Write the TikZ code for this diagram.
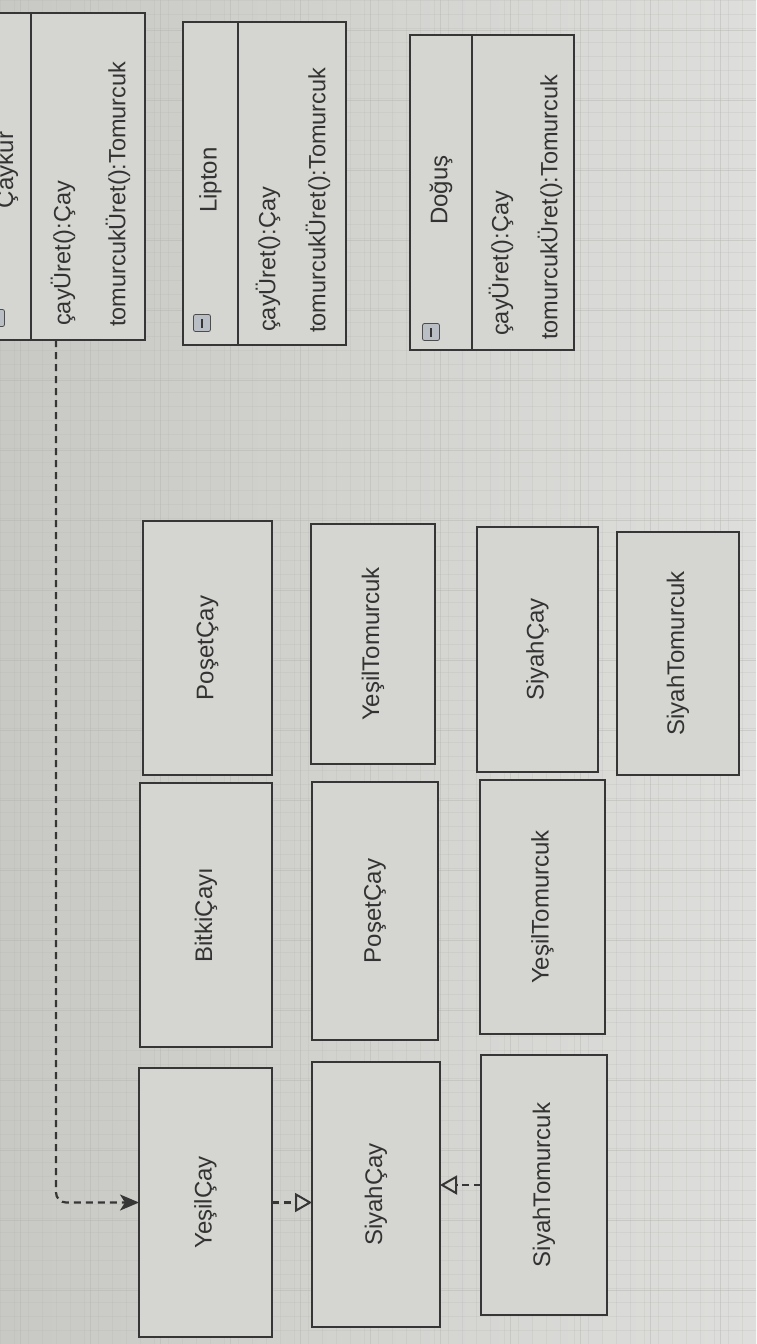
\documentclass[tikz,border=0pt]{standalone}
\usepackage{fontspec}
\setmainfont{Liberation Sans}
\usetikzlibrary{arrows.meta}
\definecolor{bgL}{HTML}{C8C8C4}
\definecolor{bgR}{HTML}{DEDEDC}
\definecolor{boxfill}{HTML}{D5D5D1}
\definecolor{edge}{HTML}{363636}
\definecolor{ink}{HTML}{333333}
\definecolor{gridc}{HTML}{B4B4B0}
\definecolor{iconfill}{HTML}{B9BFC5}
\begin{document}
\begin{tikzpicture}[x=1pt,y=-1pt,
  cls/.style={draw=edge, line width=2.6pt, fill=boxfill, inner sep=0pt, outer sep=0pt},
  lbl/.style={rotate=90, text=ink, font=\fontsize{24}{28}\selectfont, inner sep=0pt},
  meth/.style={rotate=90, anchor=west, text=ink, font=\fontsize{23.5}{28}\selectfont, inner sep=0pt},
  realize/.style={draw=edge, line width=2.2pt, dash pattern=on 7pt off 5pt},
  minorgrid/.style={draw=gridc, line width=0.35pt, opacity=0.22},
  majorgrid/.style={draw=gridc, line width=0.8pt, opacity=0.45},
  minusicon/.style={draw=gray!60!black, fill=iconfill, rounded corners=2pt, minimum size=17pt, inner sep=0pt, line width=0.8pt,
    path picture={\draw[line width=2pt, edge] ([yshift=-4.5pt]path picture bounding box.center) -- ([yshift=4.5pt]path picture bounding box.center);}}
]
\useasboundingbox (0,0) rectangle (756,1344);
\clip (0,0) rectangle (756,1344);
% background and grid
\shade[left color=bgL, right color=bgR] (0,0) rectangle (756,1344);
\foreach \i in {0,...,54} {\draw[minorgrid] (\i*14,0) -- (\i*14,1344);}
\foreach \j in {0,...,96} {\draw[minorgrid] (0,\j*14) -- (756,\j*14);}
\foreach \i in {0,...,10} {\draw[majorgrid] (\i*70+20,0) -- (\i*70+20,1344);}
\foreach \j in {0,...,19} {\draw[majorgrid] (0,\j*70+30) -- (756,\j*70+30);}

% ---- factory classes (top) ----
\node[cls, minimum width=61pt, minimum height=327pt] (caykurH) at (0.5,176.5) {};
\node[cls, minimum width=114pt, minimum height=327pt] (caykurM) at (88,176.5) {};
\node[lbl] (caykurN) at (7,170) {Çaykur};
\node[meth] (caykurA) at (63,326) {çayÜret():Çay};
\node[meth] (caykurB) at (118,327) {tomurcukÜret():Tomurcuk};
\node[minusicon] (caykurI) at (-4,318) {};

\node[cls, minimum width=55pt, minimum height=323pt] (liptonH) at (210.5,183.5) {};
\node[cls, minimum width=108pt, minimum height=323pt] (liptonM) at (292,183.5) {};
\node[lbl] (liptonN) at (210.5,180) {Lipton};
\node[meth] (liptonA) at (268,332) {çayÜret():Çay};
\node[meth] (liptonB) at (318,333) {tomurcukÜret():Tomurcuk};
\node[minusicon] (liptonI) at (202,323) {};

\node[cls, minimum width=62pt, minimum height=315pt] (dogusH) at (441,192.5) {};
\node[cls, minimum width=102pt, minimum height=315pt] (dogusM) at (523,192.5) {};
\node[lbl] (dogusN) at (441,190) {Doğuş};
\node[meth] (dogusA) at (501,336) {çayÜret():Çay};
\node[meth] (dogusB) at (550,340) {tomurcukÜret():Tomurcuk};
\node[minusicon] (dogusI) at (431,332) {};

% ---- product classes ----
\node[cls, minimum width=129pt, minimum height=254pt, label={[lbl]center:PoşetÇay}] (poset1) at (207.5,648) {};
\node[cls, minimum width=132pt, minimum height=264pt, label={[lbl]center:BitkiÇayı}] (bitki) at (206,915) {};
\node[cls, minimum width=133pt, minimum height=269pt, label={[lbl]center:YeşilÇay}] (yesil) at (205.5,1202.5) {};

\node[cls, minimum width=124pt, minimum height=240pt, label={[lbl]center:YeşilTomurcuk}] (yesilT1) at (373,644) {};
\node[cls, minimum width=126pt, minimum height=258pt, label={[lbl]center:PoşetÇay}] (poset2) at (375,911) {};
\node[cls, minimum width=128pt, minimum height=265pt, label={[lbl]center:SiyahÇay}] (siyahC1) at (376,1194.5) {};

\node[cls, minimum width=121pt, minimum height=245pt, label={[lbl]center:SiyahÇay}] (siyahC2) at (537.5,649.5) {};
\node[cls, minimum width=125pt, minimum height=254pt, label={[lbl]center:YeşilTomurcuk}] (yesilT2) at (542.5,907) {};
\node[cls, minimum width=126pt, minimum height=260pt, label={[lbl]center:SiyahTomurcuk}] (siyahT1) at (544,1185) {};

\node[cls, minimum width=122pt, minimum height=243pt, label={[lbl]center:SiyahTomurcuk}] (siyahT2) at (678,653.5) {};

% ---- connectors ----
\draw[realize, rounded corners=10pt, -{Stealth[length=19pt,width=16pt,inset=5pt]}]
  ([xshift=25pt]caykurM.south west) |- (yesil.west);
\draw[realize, -{Triangle[open,length=17pt,width=19pt,fill=boxfill,line width=2pt]}]
  (yesil.east) -- (yesil.east -| siyahC1.west);
\draw[realize, -{Triangle[open,length=17pt,width=19pt,fill=boxfill,line width=2pt]}]
  (siyahT1.west) -- (siyahT1.west -| siyahC1.east);
\end{tikzpicture}
\end{document}
